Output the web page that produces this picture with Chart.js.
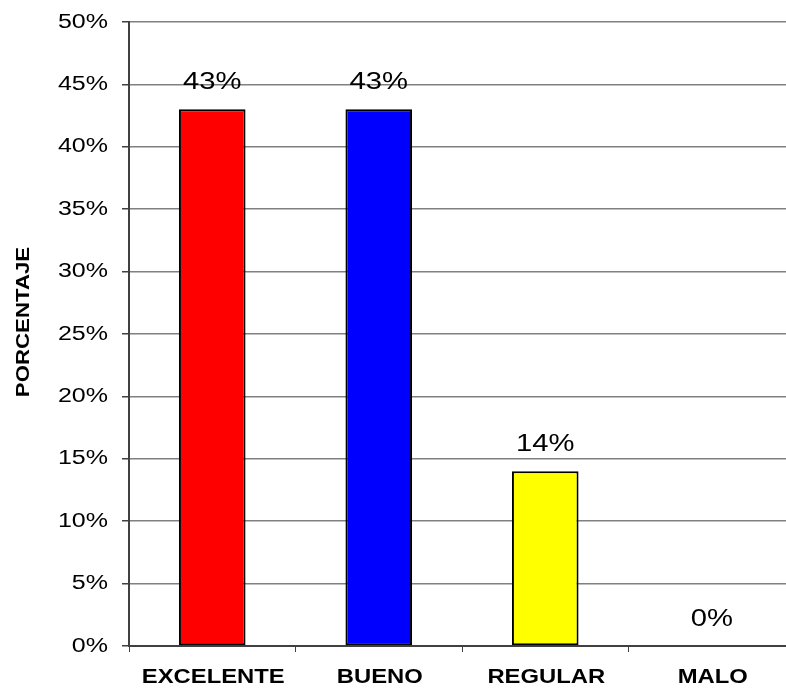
<!DOCTYPE html>
<html>
<head>
<meta charset="utf-8">
<script src="https://cdn.jsdelivr.net/npm/chart.js@4.4.1/dist/chart.umd.min.js"></script>
<style>
  html, body { margin: 0; padding: 0; background: #fff; overflow: hidden; }
  #wrap { position: relative; width: 800px; height: 688px; }
</style>
</head>
<body>
<div id="wrap"><canvas id="c"></canvas></div>
<script>
const categories = ['EXCELENTE', 'BUENO', 'REGULAR', 'MALO'];
const percentages = [43, 43, 14, 0];
const barColors = ['#FF0000', '#0000FF', '#FFFF00', '#00FF00'];
const yTicks = [0, 5, 10, 15, 20, 25, 30, 35, 40, 45, 50];
const yTitle = 'PORCENTAJE';

const FONT = "'Liberation Sans', Arial, sans-serif";

// Draws a string with its glyphs widened along the reading direction
function wideText(ctx, text, x, y, font, stretch, align, rotate) {
  ctx.save();
  ctx.font = font;
  ctx.fillStyle = '#000';
  ctx.textAlign = align;
  ctx.textBaseline = 'alphabetic';
  ctx.translate(x, y);
  if (rotate) ctx.rotate(-Math.PI / 2);
  ctx.scale(stretch, 1);
  ctx.fillText(text, 0, 0);
  ctx.restore();
}

// Tick labels, category labels, value labels and the y-axis title
const labelsPlugin = {
  id: 'labelsPlugin',
  afterDatasetsDraw(chart) {
    const ctx = chart.ctx;
    const xs = chart.scales.x;
    const ys = chart.scales.y;

    ys.ticks.forEach(t => {
      const py = ys.getPixelForValue(t.value);
      wideText(ctx, t.value + '%', ys.right - 21, py + 5.5, '20px ' + FONT, 1.25, 'right');
    });

    categories.forEach((c, i) => {
      const px = xs.getPixelForTick(i);
      wideText(ctx, c, px + 1, xs.top + 37, 'bold 20px ' + FONT, 1.19, 'center');
    });

    chart.getDatasetMeta(0).data.forEach((bar, i) => {
      wideText(ctx, percentages[i] + '%', bar.x, bar.y - 20.5, '23px ' + FONT, 1.27, 'center');
    });

    wideText(ctx, yTitle, 29, (chart.chartArea.top + chart.chartArea.bottom) / 2 - 12,
      'bold 19px ' + FONT, 1.17, 'center', true);
  }
};

new Chart(document.getElementById('c'), {
  type: 'bar',
  data: {
    labels: categories,
    datasets: [{
      data: percentages,
      backgroundColor: barColors,
      borderColor: '#000',
      borderWidth: [2, 2, 2, 0],
      borderSkipped: false,
      categoryPercentage: 1,
      barPercentage: 0.4
    }]
  },
  options: {
    responsive: true,
    maintainAspectRatio: false,
    animation: false,
    layout: { padding: { top: 22, right: 5, bottom: 0, left: 0 } },
    plugins: { legend: { display: false }, tooltip: { enabled: false } },
    scales: {
      x: {
        offset: true,
        grid: {
          offset: true,
          drawOnChartArea: false,
          drawTicks: true,
          tickLength: 6,
          color: '#404040',
          lineWidth: 1
        },
        border: { display: true, color: '#404040', width: 2 },
        ticks: { display: false },
        afterFit(scale) { scale.height = 42; }
      },
      y: {
        min: 0,
        max: 50,
        afterBuildTicks(scale) { scale.ticks = yTicks.map(v => ({ value: v })); },
        grid: {
          color: '#808080',
          lineWidth: 1.5,
          tickLength: 7,
          tickColor: '#404040'
        },
        border: { display: true, color: '#404040', width: 2 },
        ticks: { display: false },
        afterFit(scale) { scale.width = 129; }
      }
    }
  },
  plugins: [labelsPlugin]
});
</script>
</body>
</html>
